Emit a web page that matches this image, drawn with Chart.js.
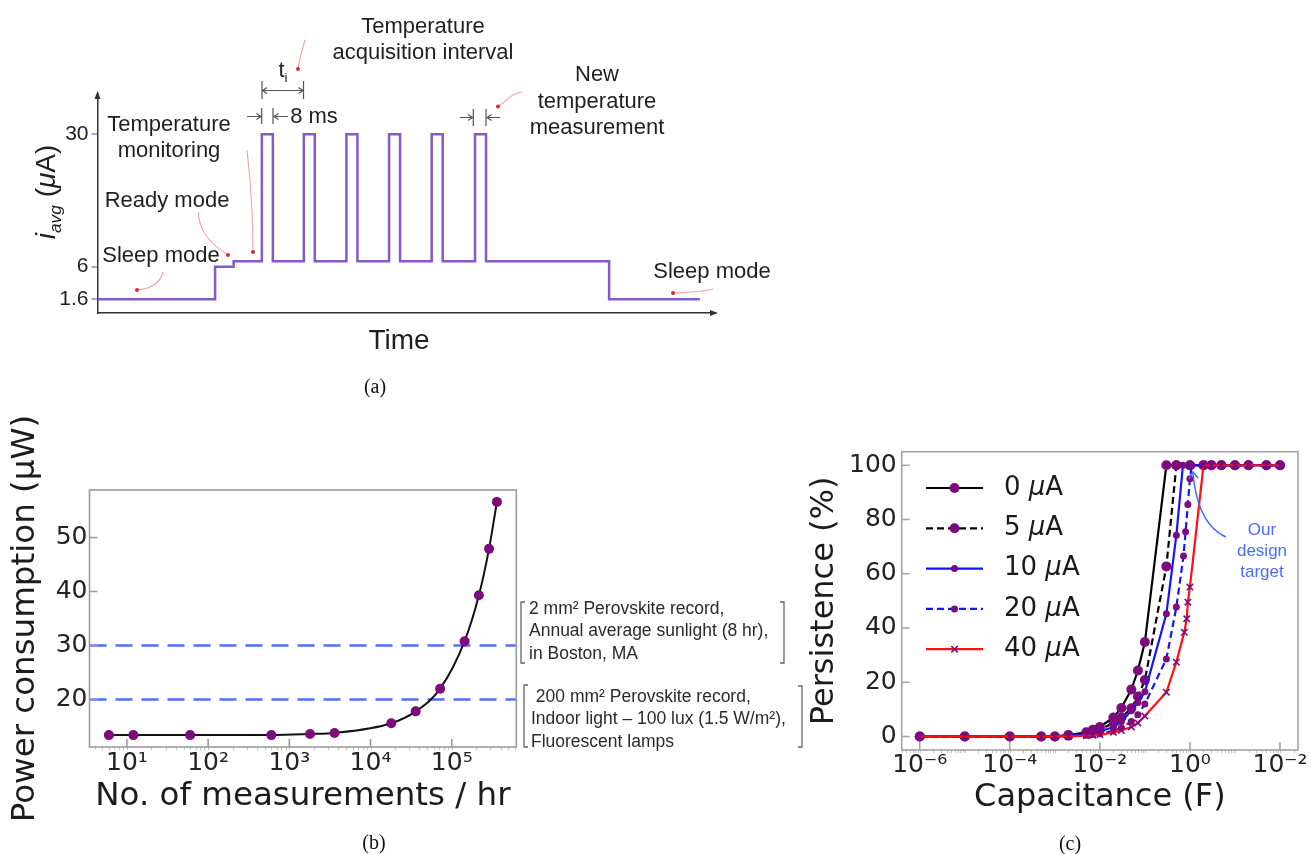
<!DOCTYPE html>
<html>
<head>
<meta charset="utf-8">
<title>Sensor current, power and persistence</title>
<script src="https://cdn.jsdelivr.net/npm/chart.js@4/dist/chart.umd.min.js"></script>
<style>
  html, body { margin: 0; padding: 0; background: #fff; }
  #page { position: relative; width: 1314px; height: 854px; overflow: hidden; background: #fff; }
  #page canvas { position: absolute; }
  #page svg { position: absolute; left: 0; top: 0; }
  .lbl { position: absolute; transform: translate(-50%, -50%); white-space: nowrap; color: #1f1f1f; text-align: center;
         font-family: "Liberation Sans", Arial, Helvetica, sans-serif; font-size: 22px; line-height: 26.5px; }
  .lbl sub { font-size: 0.62em; vertical-align: -0.35em; line-height: 0; }
  .note { position: absolute; white-space: nowrap; color: #2a2a2a;
          font-family: "Liberation Sans", Arial, sans-serif; font-size: 17.5px; line-height: 22.3px; }
  .cap { position: absolute; transform: translate(-50%, -50%); color: #111;
         font-family: "Liberation Serif", "Times New Roman", serif; font-size: 20px; }
</style>
</head>
<body>
<div id="page">
  <canvas id="chartA" width="730" height="370" style="left:0;top:0"></canvas>
  <canvas id="chartB" width="530" height="420" style="left:0;top:400px"></canvas>
  <canvas id="chartC" width="524" height="390" style="left:790px;top:440px"></canvas>

  <svg width="1314" height="854">
    <!-- (a) pointers -->
    <g fill="none" stroke="#f4a3a3" stroke-width="1.1">
      <path d="M305,40 C302,50 299,60 298,69"/>
      <path d="M498,106 C505,104 508,94 522,92"/>
      <path d="M198,212 C200,235 214,246 228,255"/>
      <path d="M247,150 C251,185 253,220 253,252"/>
      <path d="M163,272 C160,283 150,289 137,290"/>
      <path d="M673,293 C690,292 704,292 713,289"/>
    </g>
    <g fill="#e3262e">
      <circle cx="298" cy="69" r="2"/>
      <circle cx="498" cy="106.5" r="2"/>
      <circle cx="228" cy="255" r="2"/>
      <circle cx="253" cy="252" r="2"/>
      <circle cx="137" cy="290" r="2"/>
      <circle cx="673" cy="293" r="2"/>
    </g>
    <!-- (a) dimension marks -->
    <g fill="none" stroke="#555" stroke-width="1.2">
      <path d="M262,81 V99 M303.5,81 V99 M262,90.5 H303.5"/>
      <path d="M267,87.5 L262.5,90.5 L267,93.5 M298.5,87.5 L303,90.5 L298.5,93.5"/>
      <path d="M261.7,108 V124 M273,108 V124 M247,116.5 H261 M274,116.5 H288"/>
      <path d="M256.5,113.5 L261,116.5 L256.5,119.5 M278.5,113.5 L274,116.5 L278.5,119.5"/>
      <path d="M473.3,109 V126 M486,109 V126 M460,117.5 H472.5 M487,117.5 H500"/>
      <path d="M468,114.5 L472.5,117.5 L468,120.5 M491.5,114.5 L487,117.5 L491.5,120.5"/>
    </g>
    <!-- (b) brackets -->
    <g fill="none" stroke="#666" stroke-width="1.3">
      <path d="M525,602 H521 V663 H525"/>
      <path d="M780,602 H784 V663 H780"/>
      <path d="M528,685 H524 V747 H528"/>
      <path d="M798,686 H802 V747 H798"/>
    </g>
    <!-- (c) design target pointer -->
    <g fill="none" stroke="#3d6dff" stroke-width="1.5">
      <path d="M1226,537 C1206,528 1196,505 1193,474"/>
      <path d="M1189,479 L1193,472 L1198,478"/>
    </g>
  </svg>

  <!-- (a) texts -->
  <div class="lbl" style="left:423px;top:38.5px">Temperature<br>acquisition interval</div>
  <div class="lbl" style="left:597px;top:101px">New<br>temperature<br>measurement</div>
  <div class="lbl" style="left:169px;top:136.5px">Temperature<br>monitoring</div>
  <div class="lbl" style="left:167px;top:200px">Ready mode</div>
  <div class="lbl" style="left:161px;top:255px">Sleep mode</div>
  <div class="lbl" style="left:712px;top:271px">Sleep mode</div>
  <div class="lbl" style="left:314px;top:116px">8 ms</div>
  <div class="lbl" style="left:283px;top:70px">t<sub>i</sub></div>
  <div class="lbl" style="left:399px;top:340px;font-size:28px">Time</div>
  <div class="lbl" style="left:46px;top:192px;font-size:28px;transform:translate(-50%,-50%) rotate(-90deg)"><i>i</i><sub><i>avg</i></sub> (<i>μ</i>A)</div>

  <!-- (b) texts -->
  <div class="note" style="left:529px;top:597px">2 mm² Perovskite record,<br>Annual average sunlight (8 hr),<br>in Boston, MA</div>
  <div class="note" style="left:531px;top:685px">&nbsp;200 mm² Perovskite record,<br>Indoor light – 100 lux (1.5 W/m²),<br>Fluorescent lamps</div>

  <!-- (c) texts -->
  <div class="lbl" style="left:1262px;top:550px;color:#4a6cff;font-size:17px;line-height:21px">Our<br>design<br>target</div>

  <div class="cap" style="left:375px;top:386px">(a)</div>
  <div class="cap" style="left:374px;top:842px">(b)</div>
  <div class="cap" style="left:1070px;top:843px">(c)</div>
</div>

<script>
// ---------- (a) average current profile
const timeMs       = [0, 85.5, 99, 119.5, 127.5, 150, 158, 181, 189, 212, 220, 243, 251, 274.5, 282.5, 372, 438];
const currentUA    = [1.6, 6, 7, 30, 7, 30, 7, 30, 7, 30, 7, 30, 7, 30, 7, 1.6, 1.6];
const currentTicks = [1.6, 6, 30];

// ---------- (b) power vs measurement rate
const measPerHour    = [6, 12, 60, 600, 1800, 3600, 18000, 36000, 72000, 144000, 216000, 288000, 360000];
const powerUW        = [13.4, 13.4, 13.4, 13.4, 13.6, 13.8, 15.6, 17.8, 22.0, 30.8, 39.3, 47.9, 56.6];
const harvestLevels  = [30, 20];
const powerTicks     = [20, 30, 40, 50];
const measTicks      = [10, 100, 1000, 10000, 100000];
const measTickLabels = ['10¹', '10²', '10³', '10⁴', '10⁵'];

// ---------- (c) persistence vs capacitance
const loadLabels = ['0 μA', '5 μA', '10 μA', '20 μA', '40 μA'];
const cap0  = [1e-6, 1e-5, 1e-4, 5e-4, 1e-3, 2e-3, 5e-3, 7e-3, 1e-2, 2e-2, 3e-2, 5e-2, 7e-2, 0.1, 0.3, 0.5, 1, 2, 3, 5, 10, 20, 50, 100];
const pers0 = [0, 0, 0, 0, 0, 0.5, 1.5, 2.5, 3.5, 7, 10.5, 17.3, 24.3, 34.8, 100, 100, 100, 100, 100, 100, 100, 100, 100, 100];
const cap5  = [1e-6, 1e-5, 1e-4, 5e-4, 1e-3, 2e-3, 5e-3, 7e-3, 1e-2, 2e-2, 3e-2, 5e-2, 7e-2, 0.1, 0.3, 0.5, 1, 2, 3, 5, 10, 20, 50, 100];
const pers5 = [0, 0, 0, 0, 0, 0.3, 1, 1.5, 2.5, 5, 7, 10.4, 14.7, 20.8, 62.7, 100, 100, 100, 100, 100, 100, 100, 100, 100];
const cap10  = [1e-6, 1e-5, 1e-4, 5e-4, 1e-3, 2e-3, 5e-3, 7e-3, 1e-2, 2e-2, 3e-2, 5e-2, 7e-2, 0.1, 0.3, 0.5, 0.7, 1, 2, 3, 5, 10, 20, 50, 100];
const pers10 = [0, 0, 0, 0, 0, 0.2, 0.8, 1.2, 1.8, 3.5, 5.5, 9.5, 12.5, 16.5, 45.2, 74.2, 100, 100, 100, 100, 100, 100, 100, 100, 100];
const cap20  = [1e-6, 1e-5, 1e-4, 5e-4, 1e-3, 2e-3, 5e-3, 7e-3, 1e-2, 2e-2, 3e-2, 5e-2, 7e-2, 0.1, 0.3, 0.5, 0.72, 0.8, 0.9, 1, 1.1, 2, 3, 5, 10, 20, 50, 100];
const pers20 = [0, 0, 0, 0, 0, 0.1, 0.5, 0.7, 1, 2, 3.2, 5.5, 8, 12, 28.6, 47.7, 66.5, 75.5, 85.5, 95, 100, 100, 100, 100, 100, 100, 100, 100];
const cap40  = [1e-6, 1e-5, 1e-4, 5e-4, 1e-3, 2e-3, 5e-3, 7e-3, 1e-2, 2e-2, 3e-2, 5e-2, 7e-2, 0.1, 0.3, 0.5, 0.75, 0.85, 0.9, 1, 2, 3, 5, 10, 20, 50, 100];
const pers40 = [0, 0, 0, 0, 0, 0, 0.3, 0.4, 0.6, 1.5, 2.2, 3.5, 5, 7.5, 16.3, 27.4, 38.4, 43.4, 49.5, 55.1, 100, 100, 100, 100, 100, 100, 100];
const capTicks      = [1e-6, 1e-4, 1e-2, 1, 100];
const capTickLabels = ['10⁻⁶', '10⁻⁴', '10⁻²', '10⁰', '10⁻²'];
const persTicks     = [0, 20, 40, 60, 80, 100];

const fontSans = "'DejaVu Sans', sans-serif";
const purple   = '#7d0b7d';
const pts = (xs, ys) => xs.map((x, i) => ({ x: x, y: ys[i] }));
const fixedTicks = (list) => (scale) => { scale.ticks = list.map(v => ({ value: v })); };
const fixedSize = (w, h) => (scale) => {
    if (w) scale.width = w;
    if (h) scale.height = h;
    scale.paddingTop = 0; scale.paddingBottom = 0; scale.paddingLeft = 0; scale.paddingRight = 0;
};

// linear axis that is stretched below a knee value (schematic y axis of panel a)
class KneeScale extends Chart.LinearScale {
    warp(v) {
        const k = this.options.knee ?? 6, g = this.options.gain ?? 1;
        return v < k ? k + (v - k) * g : v;
    }
    getPixelForValue(v) {
        const lo = this.warp(this.min), hi = this.warp(this.max);
        return this.getPixelForDecimal((this.warp(v) - lo) / (hi - lo));
    }
}
KneeScale.id = 'knee';
Chart.register(KneeScale);

// grey box with inward ticks, matplotlib style
const framePlugin = {
    id: 'frame',
    afterDraw(chart, args, opts) {
        if (!opts.display) return;
        const { ctx, chartArea: a, scales } = chart;
        const xs = scales.x, ys = scales.y;
        ctx.save();
        ctx.strokeStyle = opts.minorColor; ctx.lineWidth = 1;
        ctx.beginPath();
        for (let d = Math.floor(Math.log10(xs.min)); d <= Math.ceil(Math.log10(xs.max)); d++) {
            for (let m = 1; m < 10; m++) {
                const v = m * Math.pow(10, d);
                if (v < xs.min || v > xs.max) continue;
                const px = Math.round(xs.getPixelForValue(v)) + 0.5;
                ctx.moveTo(px, a.bottom); ctx.lineTo(px, a.bottom + opts.minorLength);
            }
        }
        ctx.stroke();
        ctx.strokeStyle = opts.color; ctx.lineWidth = opts.width;
        ctx.beginPath();
        xs.ticks.forEach(t => { const px = xs.getPixelForValue(t.value); ctx.moveTo(px, a.bottom); ctx.lineTo(px, a.bottom - opts.tickLength); });
        ys.ticks.forEach(t => { const py = ys.getPixelForValue(t.value); ctx.moveTo(a.left, py); ctx.lineTo(a.left + opts.tickLength, py); });
        ctx.stroke();
        ctx.strokeRect(a.left, a.top, a.right - a.left, a.bottom - a.top);
        ctx.restore();
    }
};
Chart.register(framePlugin);

const axisArrows = {
    id: 'axisArrows',
    afterDraw(chart) {
        const { ctx, chartArea: a } = chart;
        ctx.save();
        ctx.fillStyle = '#333';
        ctx.beginPath(); ctx.moveTo(a.right + 3, a.bottom); ctx.lineTo(a.right - 5, a.bottom - 3); ctx.lineTo(a.right - 5, a.bottom + 3); ctx.fill();
        ctx.beginPath(); ctx.moveTo(a.left, a.top - 3); ctx.lineTo(a.left - 3, a.top + 5); ctx.lineTo(a.left + 3, a.top + 5); ctx.fill();
        ctx.restore();
    }
};

// legend with line sample + marker, mu drawn in italic
const lineLegend = {
    id: 'lineLegend',
    afterDraw(chart, args, opts) {
        const { ctx, chartArea: a } = chart;
        ctx.save();
        chart.data.datasets.forEach((ds, i) => {
            const y = a.top + opts.top + i * opts.rowGap;
            ctx.strokeStyle = ds.borderColor; ctx.lineWidth = ds.borderWidth;
            ctx.setLineDash(ds.borderDash || []);
            ctx.beginPath(); ctx.moveTo(a.left + opts.lineStart, y); ctx.lineTo(a.left + opts.lineEnd, y); ctx.stroke();
            ctx.setLineDash([]);
            ctx.fillStyle = ds.pointBackgroundColor; ctx.strokeStyle = ds.pointBorderColor; ctx.lineWidth = ds.pointBorderWidth || 1;
            Chart.helpers.drawPoint(ctx, { pointStyle: ds.pointStyle, radius: ds.pointRadius, rotation: 0, borderWidth: ds.pointBorderWidth },
                a.left + (opts.lineStart + opts.lineEnd) / 2, y);
            let x = a.left + opts.textStart;
            ctx.fillStyle = '#1a1a1a'; ctx.textBaseline = 'middle'; ctx.textAlign = 'left';
            ds.label.split(/(μ)/).forEach(part => {
                if (!part) return;
                ctx.font = (part === 'μ' ? 'italic ' : '') + opts.fontSize + 'px ' + fontSans;
                ctx.fillText(part, x, y);
                x += ctx.measureText(part).width;
            });
        });
        ctx.restore();
    }
};

// ================= (a)
new Chart(document.getElementById('chartA'), {
    type: 'line',
    data: { datasets: [{
        data: pts(timeMs, currentUA), stepped: 'before',
        borderColor: '#8658c9', borderWidth: 2.5, pointRadius: 0, fill: false
    }] },
    options: {
        responsive: false, animation: false, events: [],
        layout: { padding: { left: 0, right: 15, top: 94, bottom: 0 } },
        plugins: { legend: { display: false }, tooltip: { enabled: false } },
        scales: {
            x: { type: 'linear', min: 0, max: 449,
                 ticks: { display: false }, grid: { display: false, drawTicks: false },
                 border: { display: true, color: '#333', width: 1.5 },
                 afterFit: fixedSize(0, 57) },
            y: { type: 'knee', min: -0.25, max: 37.3, knee: 6, gain: 1.343,
                 afterBuildTicks: fixedTicks(currentTicks),
                 ticks: { padding: 3, color: '#222', font: { family: "'Liberation Sans', Arial, sans-serif", size: 21 },
                          callback: (v) => String(v) },
                 grid: { display: true, drawOnChartArea: false, drawTicks: true, tickLength: 6, color: '#b9a2e2', lineWidth: 2 },
                 border: { display: true, color: '#333', width: 1.5 },
                 afterFit: fixedSize(97.5, 0) }
        }
    },
    plugins: [axisArrows]
});

// ================= (b)
const bXMin = 3.46, bXMax = 6.24e5;
new Chart(document.getElementById('chartB'), {
    type: 'line',
    data: { datasets: [
        { data: pts(measPerHour, powerUW), borderColor: '#111', borderWidth: 2, cubicInterpolationMode: 'monotone',
          pointRadius: 5, pointBackgroundColor: purple, pointBorderWidth: 0 }
    ].concat(harvestLevels.map(lv => ({
        data: [{ x: bXMin, y: lv }, { x: bXMax, y: lv }],
        borderColor: '#4f6fff', borderWidth: 2.5, borderDash: [17, 9], pointRadius: 0
    }))) },
    options: {
        responsive: false, animation: false, events: [],
        layout: { padding: { left: 0, right: 13.7, top: 90, bottom: 0 } },
        plugins: { legend: { display: false }, tooltip: { enabled: false },
                   frame: { display: true, color: '#9c9c9c', width: 1.6, tickLength: 8, minorColor: '#c4c4c4', minorLength: 3 } },
        scales: {
            x: { type: 'logarithmic', min: bXMin, max: bXMax,
                 afterBuildTicks: fixedTicks(measTicks),
                 ticks: { padding: 1, color: '#222', font: { family: fontSans, size: 25 }, maxRotation: 0,
                          callback: (v, i) => measTickLabels[i] },
                 grid: { display: false, drawTicks: false }, border: { display: false },
                 title: { display: true, text: 'No. of measurements / hr', color: '#1c1c1c',
                          font: { family: fontSans, size: 32.5 }, padding: { top: 0, bottom: 3.5 } },
                 afterFit: fixedSize(0, 73) },
            y: { type: 'linear', min: 11.2, max: 58.8,
                 afterBuildTicks: fixedTicks(powerTicks),
                 ticks: { padding: 2, color: '#222', font: { family: fontSans, size: 25 } },
                 grid: { display: false, drawTicks: false }, border: { display: false },
                 title: { display: true, text: 'Power consumption (μW)', color: '#1c1c1c',
                          font: { family: fontSans, size: 32.5 }, padding: { top: 6, bottom: 0 } },
                 afterFit: fixedSize(89.5, 0) }
        }
    }
});

// ================= (c)
const capSeries = [
    { label: loadLabels[0], data: pts(cap0, pers0),   borderColor: '#000000', borderDash: [],     pointStyle: 'circle',   pointRadius: 5 },
    { label: loadLabels[1], data: pts(cap5, pers5),   borderColor: '#000000', borderDash: [7, 4], pointStyle: 'circle',   pointRadius: 5 },
    { label: loadLabels[2], data: pts(cap10, pers10), borderColor: '#1414ff', borderDash: [],     pointStyle: 'circle',   pointRadius: 3.5 },
    { label: loadLabels[3], data: pts(cap20, pers20), borderColor: '#1414ff', borderDash: [7, 4], pointStyle: 'circle',   pointRadius: 3.5 },
    { label: loadLabels[4], data: pts(cap40, pers40), borderColor: '#ff1010', borderDash: [],     pointStyle: 'crossRot', pointRadius: 4.5 }
];
new Chart(document.getElementById('chartC'), {
    type: 'line',
    data: { datasets: capSeries.map((s, i) => Object.assign({
        borderWidth: 2.2, tension: 0, order: -i,
        pointBackgroundColor: purple, pointBorderColor: purple,
        pointBorderWidth: s.pointStyle === 'crossRot' ? 1.6 : 0
    }, s)) },
    options: {
        responsive: false, animation: false, events: [],
        layout: { padding: { left: 0, right: 16, top: 11.7, bottom: 0 } },
        plugins: { legend: { display: false }, tooltip: { enabled: false },
                   frame: { display: true, color: '#a3a3a3', width: 1.6, tickLength: 8, minorColor: '#c4c4c4', minorLength: 3 },
                   lineLegend: { top: 36.3, rowGap: 40.3, lineStart: 24.3, lineEnd: 81.3, textStart: 102.3, fontSize: 26 } },
        scales: {
            x: { type: 'logarithmic', min: Math.pow(10, -6.4), max: Math.pow(10, 2.4),
                 afterBuildTicks: fixedTicks(capTicks),
                 ticks: { padding: 0, color: '#222', font: { family: fontSans, size: 25 }, maxRotation: 0,
                          callback: (v, i) => capTickLabels[i] },
                 grid: { display: false, drawTicks: false }, border: { display: false },
                 title: { display: true, text: 'Capacitance (F)', color: '#1c1c1c',
                          font: { family: fontSans, size: 32 }, padding: { top: 0, bottom: 12.8 } },
                 afterFit: fixedSize(0, 80) },
            y: { type: 'linear', min: -5, max: 105,
                 afterBuildTicks: fixedTicks(persTicks),
                 ticks: { padding: 5, color: '#222', font: { family: fontSans, size: 25 } },
                 grid: { display: false, drawTicks: false }, border: { display: false },
                 title: { display: true, text: 'Persistence (%)', color: '#1c1c1c',
                          font: { family: fontSans, size: 32 }, padding: { top: 15.8, bottom: 0 } },
                 afterFit: fixedSize(111.7, 0) }
        }
    },
    plugins: [lineLegend]
});
</script>
</body>
</html>
